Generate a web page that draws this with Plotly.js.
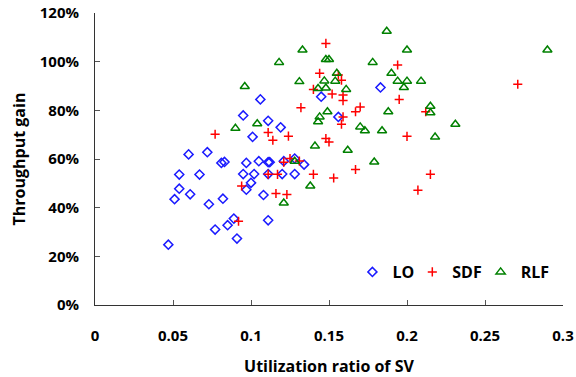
<!DOCTYPE html>
<html>
<head>
<meta charset="utf-8">
<script src="https://cdn.plot.ly/plotly-3.0.1.min.js"></script>
<style>
  html, body { margin: 0; padding: 0; background: #fff; }
  #chart { width: 576px; height: 377px; }
</style>
</head>
<body>
<div id="chart"></div>
<script>
// Utilization ratio of SV (x) vs. throughput gain in percent (y), per scheme
const loX = [0.106, 0.095, 0.111, 0.119, 0.101, 0.060, 0.072, 0.081, 0.083, 0.097,
             0.105, 0.111, 0.112, 0.121, 0.128, 0.134, 0.054, 0.067, 0.095, 0.102,
             0.111, 0.120, 0.128, 0.054, 0.061, 0.100, 0.097, 0.108, 0.051, 0.082,
             0.073, 0.089, 0.085, 0.077, 0.111, 0.091, 0.047, 0.183, 0.145, 0.156];
const loY = [84.5, 77.9, 75.7, 73.0, 69.1, 61.9, 62.8, 58.4, 58.8, 58.4,
             59.1, 58.7, 58.7, 59.1, 60.2, 57.7, 53.6, 53.6, 53.8, 53.8,
             53.8, 53.8, 53.8, 47.8, 45.5, 50.2, 47.4, 45.2, 43.5, 43.7,
             41.4, 35.5, 32.8, 31.0, 34.8, 27.3, 24.8, 89.4, 85.6, 77.3];

const sdfX = [0.077, 0.111, 0.114, 0.124, 0.121, 0.125, 0.131, 0.111, 0.117, 0.140,
              0.094, 0.116, 0.123, 0.092, 0.148, 0.194, 0.144, 0.156, 0.158, 0.140,
              0.152, 0.159, 0.159, 0.132, 0.195, 0.167, 0.170, 0.159, 0.158, 0.148,
              0.150, 0.200, 0.167, 0.153, 0.207, 0.215, 0.271, 0.212];
const sdfY = [70.2, 70.9, 67.7, 69.4, 58.7, 60.2, 59.2, 53.7, 53.7, 53.7,
              48.9, 45.8, 45.4, 34.4, 107.5, 98.6, 95.2, 94.5, 92.4, 88.6,
              86.7, 86.3, 84.0, 81.1, 84.5, 79.4, 81.4, 77.3, 74.3, 68.4,
              67.0, 69.3, 55.7, 52.2, 47.2, 53.7, 90.7, 79.4];

const rlfX = [0.096, 0.090, 0.104, 0.121, 0.187, 0.133, 0.200, 0.118, 0.148, 0.150,
              0.178, 0.190, 0.131, 0.155, 0.147, 0.154, 0.194, 0.200, 0.198, 0.209,
              0.143, 0.148, 0.161, 0.149, 0.144, 0.143, 0.170, 0.173, 0.184, 0.188,
              0.141, 0.162, 0.179, 0.128, 0.138, 0.290, 0.215, 0.215, 0.231, 0.218];
const rlfY = [89.8, 72.6, 74.5, 41.9, 112.5, 104.8, 104.8, 99.7, 100.9, 100.9,
              99.7, 95.2, 91.8, 95.2, 92.1, 92.0, 92.0, 92.0, 89.4, 92.0,
              89.0, 89.2, 88.6, 79.4, 77.3, 75.3, 73.2, 71.6, 71.6, 79.4,
              65.3, 63.6, 58.8, 59.1, 48.9, 104.8, 81.7, 79.0, 74.3, 69.0];

const fontFamily = '"Open Sans", "Noto Sans", sans-serif';
const legendFont = { family: fontFamily, size: 16, color: '#000', weight: 'bold' };

const traces = [
  {
    name: 'LO', x: loX, y: loY, type: 'scatter', mode: 'markers', legend: 'legend',
    marker: { symbol: 'diamond-open', size: 7, color: '#1a1aff', line: { width: 1.5, color: '#1a1aff' } }
  },
  {
    name: 'SDF', x: sdfX, y: sdfY, type: 'scatter', mode: 'markers', legend: 'legend2',
    marker: { symbol: 'cross-thin', size: 6.5, color: '#ff0000', line: { width: 1.5, color: '#ff0000' } }
  },
  {
    name: 'RLF', x: rlfX, y: rlfY, type: 'scatter', mode: 'markers', legend: 'legend3',
    marker: { symbol: 'triangle-up-open', size: 8, color: '#008000', line: { width: 1.5, color: '#008000' } }
  }
];

// one single-entry legend per series, laid out in a row inside the plot
function legendAt(x) {
  return { orientation: 'h', x: x, y: 0.113, xanchor: 'left', yanchor: 'middle',
           bgcolor: 'rgba(0,0,0,0)', font: legendFont };
}

const layout = {
  width: 576, height: 377,
  margin: { l: 95, r: 13, t: 13, b: 72 },
  paper_bgcolor: '#ffffff', plot_bgcolor: '#ffffff',
  font: { family: fontFamily, size: 15, color: '#000', weight: 'bold' },
  showlegend: true,
  legend: legendAt(0.550),
  legend2: legendAt(0.678),
  legend3: legendAt(0.824),
  xaxis: {
    range: [0, 0.3], dtick: 0.05, tick0: 0,
    showgrid: false, zeroline: false,
    showline: true, linecolor: '#333', linewidth: 1,
    ticks: 'inside', ticklen: 5, tickcolor: '#555',
    ticklabelstandoff: 17,
    tickfont: { family: fontFamily, size: 15, color: '#000', weight: 'bold' },
    title: { text: 'Utilization ratio of SV', standoff: 19,
             font: { family: fontFamily, size: 16, color: '#000', weight: 'bold' } }
  },
  yaxis: {
    range: [0, 120], dtick: 20, tick0: 0, ticksuffix: '%',
    showgrid: false, zeroline: false,
    showline: true, linecolor: '#333', linewidth: 1,
    ticks: 'inside', ticklen: 5, tickcolor: '#555',
    ticklabelstandoff: 12,
    tickfont: { family: fontFamily, size: 15, color: '#000', weight: 'bold' },
    title: { text: 'Throughput gain', standoff: 10,
             font: { family: fontFamily, size: 16, color: '#000', weight: 'bold' } }
  }
};

Plotly.newPlot('chart', traces, layout, { displayModeBar: false, staticPlot: true });
</script>
</body>
</html>
